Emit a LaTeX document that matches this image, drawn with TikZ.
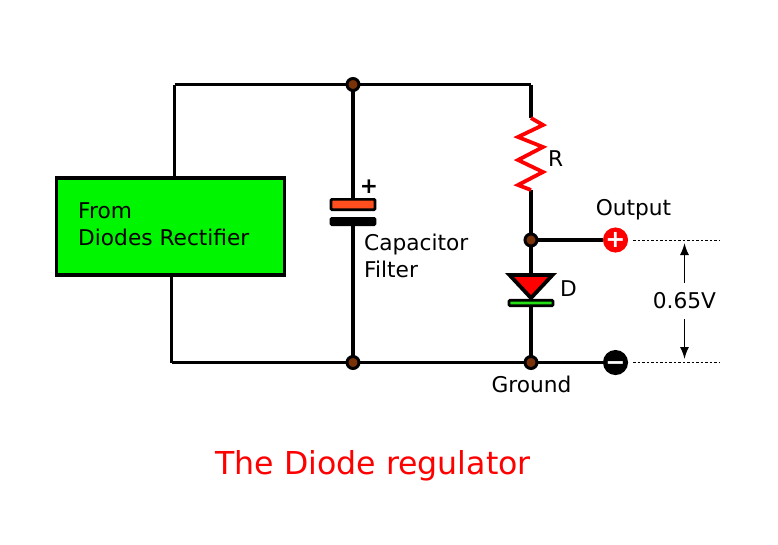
\documentclass[tikz,border=0pt]{standalone}
\usepackage{fontspec}
\setmainfont{DejaVu Sans}
\usepackage{tikz}
\usetikzlibrary{arrows.meta}

\definecolor{joint}{RGB}{122,51,8}
\definecolor{platered}{RGB}{255,79,31}
\definecolor{barlime}{RGB}{34,224,20}
\definecolor{boxgreen}{RGB}{0,245,0}

\begin{document}
\begin{tikzpicture}[
    x=1pt, y=-1pt,
    wire/.style={line width=3.8pt},
    dotline/.style={line width=1.6pt, dash pattern=on 2.5pt off 2pt},
    vmark/.style={line width=1.5pt},
    lbl/.style={inner sep=0pt, font=\fontsize{21.7}{27}\selectfont},
    joint/.style={draw, line width=3pt, circle, fill=joint, minimum size=12pt, inner sep=0pt, outer sep=0pt},
    term/.style={circle, minimum size=21pt, inner sep=0pt, outer sep=0pt, text=white, text height=15pt, text depth=0pt, font=\fontsize{24}{24}\selectfont\bfseries},
    plate/.style={draw, line width=2.7pt, rounded corners=1pt, minimum width=44pt, inner sep=0pt, outer sep=0pt}
    ]

    \useasboundingbox (0,0) rectangle (778,544);

    \node[draw, line width=3.5pt, fill=boxgreen, minimum width=228pt, minimum height=97pt, inner sep=0pt, outer sep=0pt] (rect) at (170.5,226.5) {};
    \node[lbl, anchor=west, align=left] (recttext) at (78,224.5) {From\\Diodes Rectifier};

    \coordinate (topleft) at (174.5,84.5);
    \coordinate (botleft) at (171.5,362.5);
    \coordinate (recttop) at (174.5,178);
    \coordinate (rectbot) at (171.5,275);
    \coordinate (topright) at (531,84.5);
    \coordinate (rtop) at (531,118);
    \coordinate (rbot) at (531,190);
    \coordinate (dtop) at (531,275);

    \node[joint] (jtop) at (353,84.5) {};
    \node[joint] (jbot) at (353,362.5) {};
    \node[joint] (jout) at (531,240) {};
    \node[joint] (jgnd) at (531,362.5) {};

    \node[plate, fill=platered, minimum height=10.3pt] (cpos) at (353,204.5) {};
    \node[plate, fill=black, minimum height=6.3pt] (cneg) at (353,221.5) {};
    \node[plate, fill=barlime, minimum height=5.5pt] (dbar) at (531,303) {};

    \node[term, fill=red] (tplus) at (615.5,240) {+};
    \node[term, fill=black] (tminus) at (615.5,362.5) {−};

    \path[wire] (recttop) edge (topleft)
    (topleft) edge (jtop)
    (jtop) edge (topright)
    (topright) edge (rtop)
    (rbot) edge (jout)
    (jout) edge (tplus)
    (jout) edge (dtop)
    (dbar) edge (jgnd)
    (rectbot) edge (botleft)
    (botleft) edge (jbot)
    (jbot) edge (jgnd)
    (jgnd) edge (tminus)
    (jtop) edge (cpos)
    (cneg) edge (jbot)
    ;

    % resistor
    \draw[wire, red, line join=miter] (rtop) -- ++(12,7) -- ++(-25,12) -- ++(25,10) -- ++(-25,13) -- ++(25,12) -- ++(-25,13) -- (rbot);

    % diode
    \draw[wire, fill=red, line join=miter] (509.5,275) -- (552.5,275) -- (531,298) -- cycle;

    \node[lbl, font=\fontsize{21.7}{27}\selectfont\bfseries] (cplus) at (369,187) {+};
    \node[lbl, anchor=west, align=left] (ctext) at (364,255.5) {Capacitor\\Filter};
    \node[lbl, anchor=west] (rlab) at (548,159) {R};
    \node[lbl] (outlab) at (633.5,210) {Output};
    \node[lbl, anchor=west] (dlab) at (560,289) {D};
    \node[lbl] (gndlab) at (531.5,384) {Ground};
    \node[lbl, minimum height=36pt] (vlab) at (684.5,301) {0.65V};
    \node[inner sep=0pt, font=\fontsize{31.6}{36}\selectfont, text=red] (title) at (373,466) {The Diode regulator};

    \coordinate (dup0) at (633,240.5);
    \coordinate (dup1) at (720,240.5);
    \coordinate (dlo0) at (633,362.5);
    \coordinate (dlo1) at (720,362.5);
    \coordinate (vtop) at (684.5,243);
    \coordinate (vbot) at (684.5,359);

    \path[dotline] (dup0) edge (dup1)
    (dlo0) edge (dlo1);
    \path[vmark] (vlab) edge[-{Latex[length=12pt,width=9pt]}] (vtop)
    (vlab) edge[-{Latex[length=12pt,width=9pt]}] (vbot)
    ;

  \end{tikzpicture}
\end{document}
